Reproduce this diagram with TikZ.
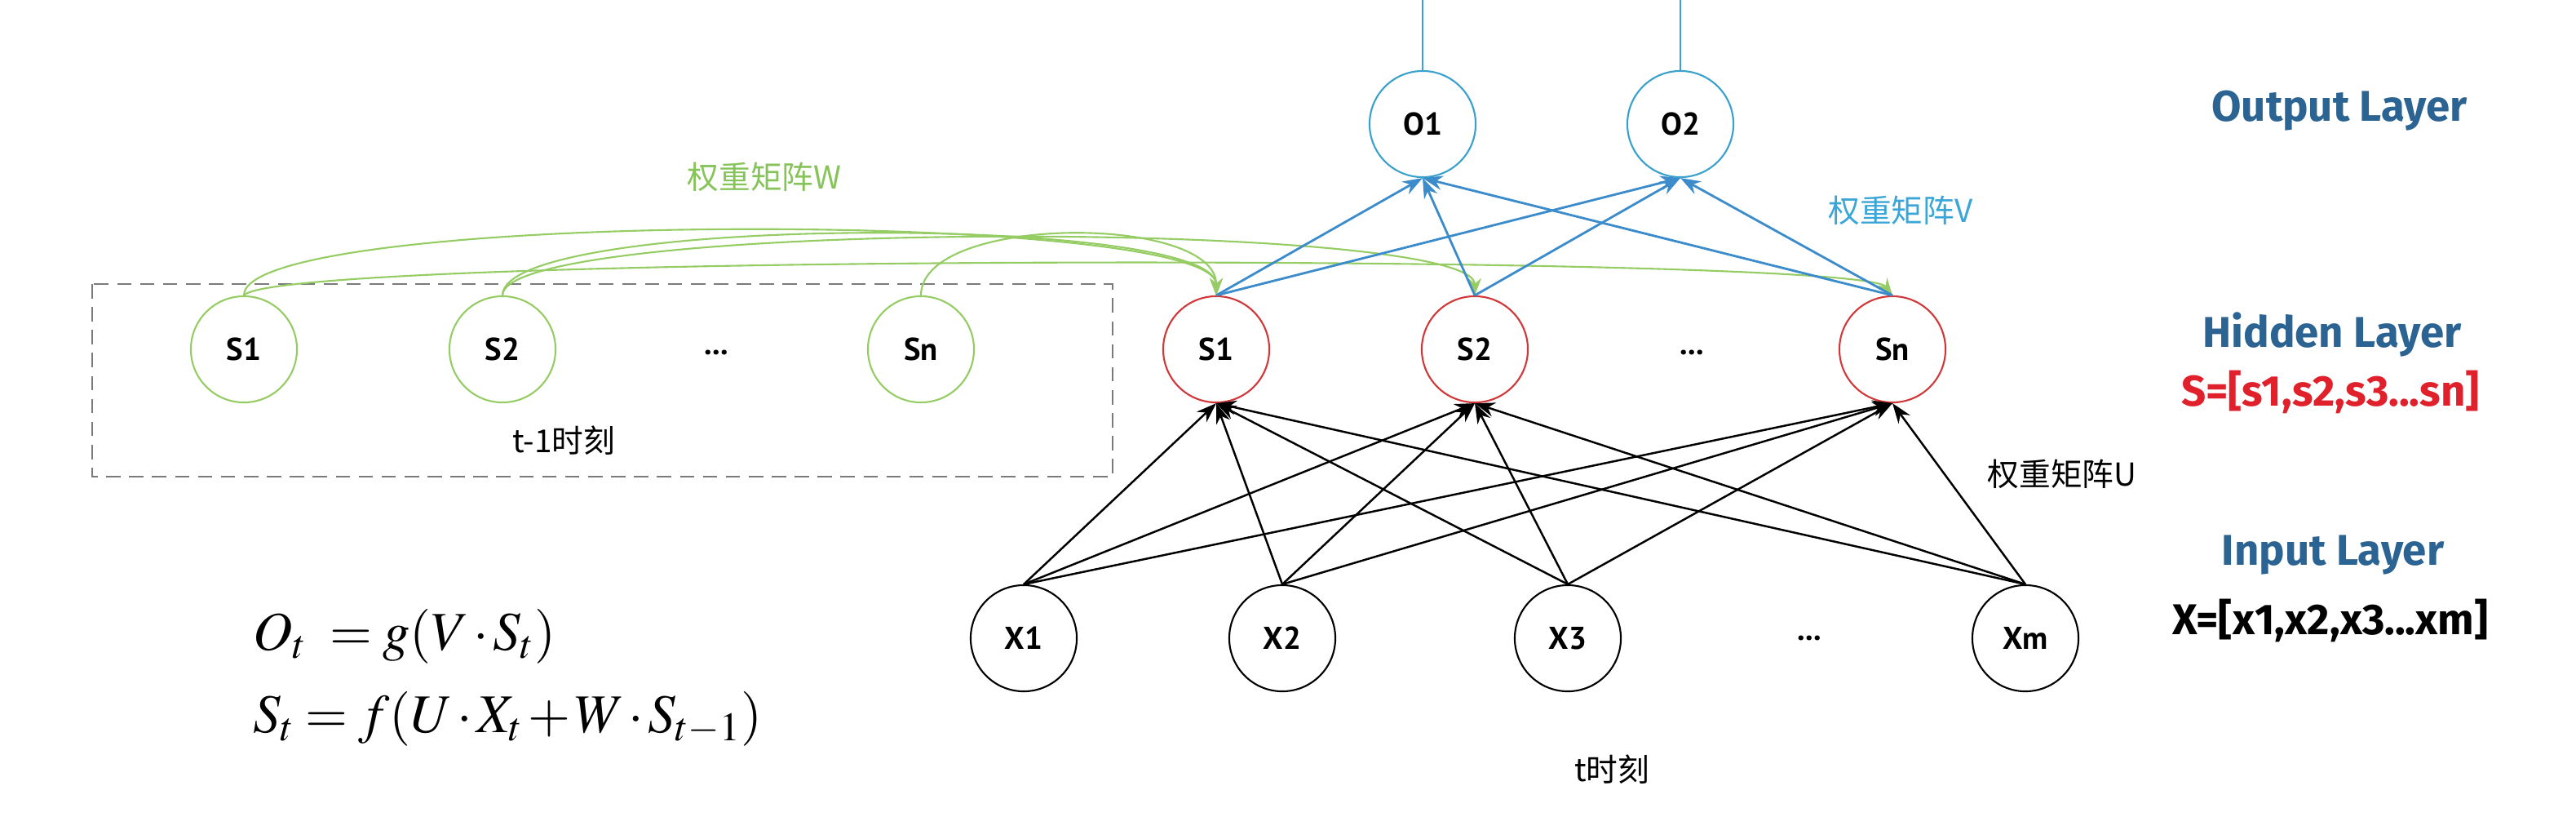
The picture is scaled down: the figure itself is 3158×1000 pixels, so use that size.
\documentclass[tikz,border=0pt]{standalone}
\usepackage{mathptmx}
\usepackage{fontspec}
\setmainfont{Liberation Serif}
\usetikzlibrary{arrows.meta}
\newfontfamily\cjkf{Noto Sans CJK SC}
\newfontfamily\nodef{PT Sans}
\newfontfamily\layerf{Fira Sans}
\newcommand{\tightmath}{\medmuskip=1.5mu\relax\thickmuskip=3.5mu\relax}
\definecolor{wgreen}{HTML}{96CC64}
\definecolor{wgreentxt}{HTML}{86C45A}
\definecolor{hred}{HTML}{D0383A}
\definecolor{oblue}{HTML}{3AA0CC}
\definecolor{eblue}{HTML}{3C8CCB}
\definecolor{vblue}{HTML}{3AA6D8}
\definecolor{laybl}{HTML}{2B6392}
\definecolor{sred}{HTML}{E0202A}
\definecolor{boxgray}{HTML}{7A7A7A}
\tikzset{
  neuron/.style={circle, draw, line width=0.6pt, minimum size=1.3cm, inner sep=0pt,
    font=\nodef\bfseries\fontsize{11}{13}\selectfont},
  prevnode/.style={neuron, draw=wgreen},
  hidnode/.style={neuron, draw=hred},
  outnode/.style={neuron, draw=oblue},
  innode/.style={neuron, draw=black},
  dotsnode/.style={font=\nodef\bfseries\fontsize{11}{13}\selectfont, inner sep=0pt},
  cjklab/.style={font=\cjkf\fontsize{11}{13}\selectfont, inner sep=0pt},
  laylab/.style={font=\layerf\bfseries\fontsize{15}{18}\selectfont, inner sep=0pt, anchor=base},
  wedge/.style={draw=wgreen, line width=0.6pt, -{Stealth[length=6pt,width=4.5pt]}},
  vedge/.style={draw=eblue, line width=0.8pt, -{Stealth[length=7pt,width=5pt]}},
  uedge/.style={draw=black, line width=0.7pt, -{Stealth[length=7pt,width=5pt]}},
  formula/.style={font=\fontsize{19}{23}\selectfont, inner sep=0pt, anchor=base west}
}
\begin{document}
\begin{tikzpicture}[x=0.01cm, y=-0.01cm]
\useasboundingbox[fill=white] (0,0) rectangle (3158,1000);

% previous time step box
\draw[boxgray, line width=0.8pt, dash pattern=on 5pt off 3pt] (113,348) rectangle (1364,584);

% previous hidden nodes
\node[prevnode] (pS1) at (299,428) {S1};
\node[prevnode] (pS2) at (616,428) {S2};
\node[dotsnode] (pdots) at (878,432) {...};
\node[prevnode] (pSn) at (1129,428) {Sn};
\node[cjklab] (tprev) at (691,540) {t-1时刻};

% hidden nodes
\node[hidnode] (S1) at (1491,428) {S1};
\node[hidnode] (S2) at (1808,428) {S2};
\node[dotsnode] (hdots) at (2074,432) {...};
\node[hidnode] (Sn) at (2320,428) {Sn};

% output nodes
\node[outnode] (O1) at (1744,152) {O1};
\node[outnode] (O2) at (2060,152) {O2};
\coordinate (O1up) at (1744,0);
\coordinate (O2up) at (2060,0);
\draw[oblue, line width=0.6pt] (O1.north) -- (O1up);
\draw[oblue, line width=0.6pt] (O2.north) -- (O2up);

% input nodes
\node[innode] (X1) at (1255,782) {X1};
\node[innode] (X2) at (1572,782) {X2};
\node[innode] (X3) at (1922,782) {X3};
\node[dotsnode] (xdots) at (2218,782) {...};
\node[innode] (Xm) at (2483,782) {Xm};

% W connections
\draw[wedge] (pS1.north) .. controls (299,256) and (1491,256) .. (S1.north);
\draw[wedge] (pS2.north) .. controls (616,262) and (1491,262) .. (S1.north);
\draw[wedge] (pSn.north) .. controls (1129,262) and (1491,262) .. (S1.north);
\draw[wedge] (pS2.north) .. controls (616,268) and (1808,268) .. (S2.north);
\draw[wedge] (pS1.north) .. controls (340,310) and (2280,310) .. (Sn.north);

% V connections
\foreach \s in {S1,S2,Sn}{
  \foreach \o in {O1,O2}{
    \draw[vedge] (\s.north) -- (\o.south);
  }
}

% U connections
\foreach \x in {X1,X2,X3,Xm}{
  \foreach \s in {S1,S2,Sn}{
    \draw[uedge] (\x.north) -- (\s.south);
  }
}

% weight labels
\node[cjklab, text=wgreentxt] (Wlab) at (937,217) {权重矩阵W};
\node[cjklab, text=vblue] (Vlab) at (2330,258) {权重矩阵V};
\node[cjklab] (Ulab) at (2528,581) {权重矩阵U};
\node[cjklab] (tnow) at (1976,943) {t时刻};

% layer labels
\node[laylab, text=laybl] (outL) at (2868,148) {Output Layer};
\node[laylab, text=laybl] (hidL) at (2859,425) {Hidden Layer};
\node[laylab, text=sred] (hidV) at (2857,497) {S=[s1,s2,s3...sn]};
\node[laylab, text=laybl] (inL) at (2860,692) {Input Layer};
\node[laylab] (inV) at (2857,777) {X=[x1,x2,x3...xm]};

% formulas
\node[formula] (f1) at (310,796) {\tightmath$O_t\,\, = g(V\cdot S_t)$};
\node[formula] (f2) at (310,897) {\tightmath$S_t = f(U\cdot X_t + W\cdot S_{t-1})$};
\end{tikzpicture}
\end{document}
